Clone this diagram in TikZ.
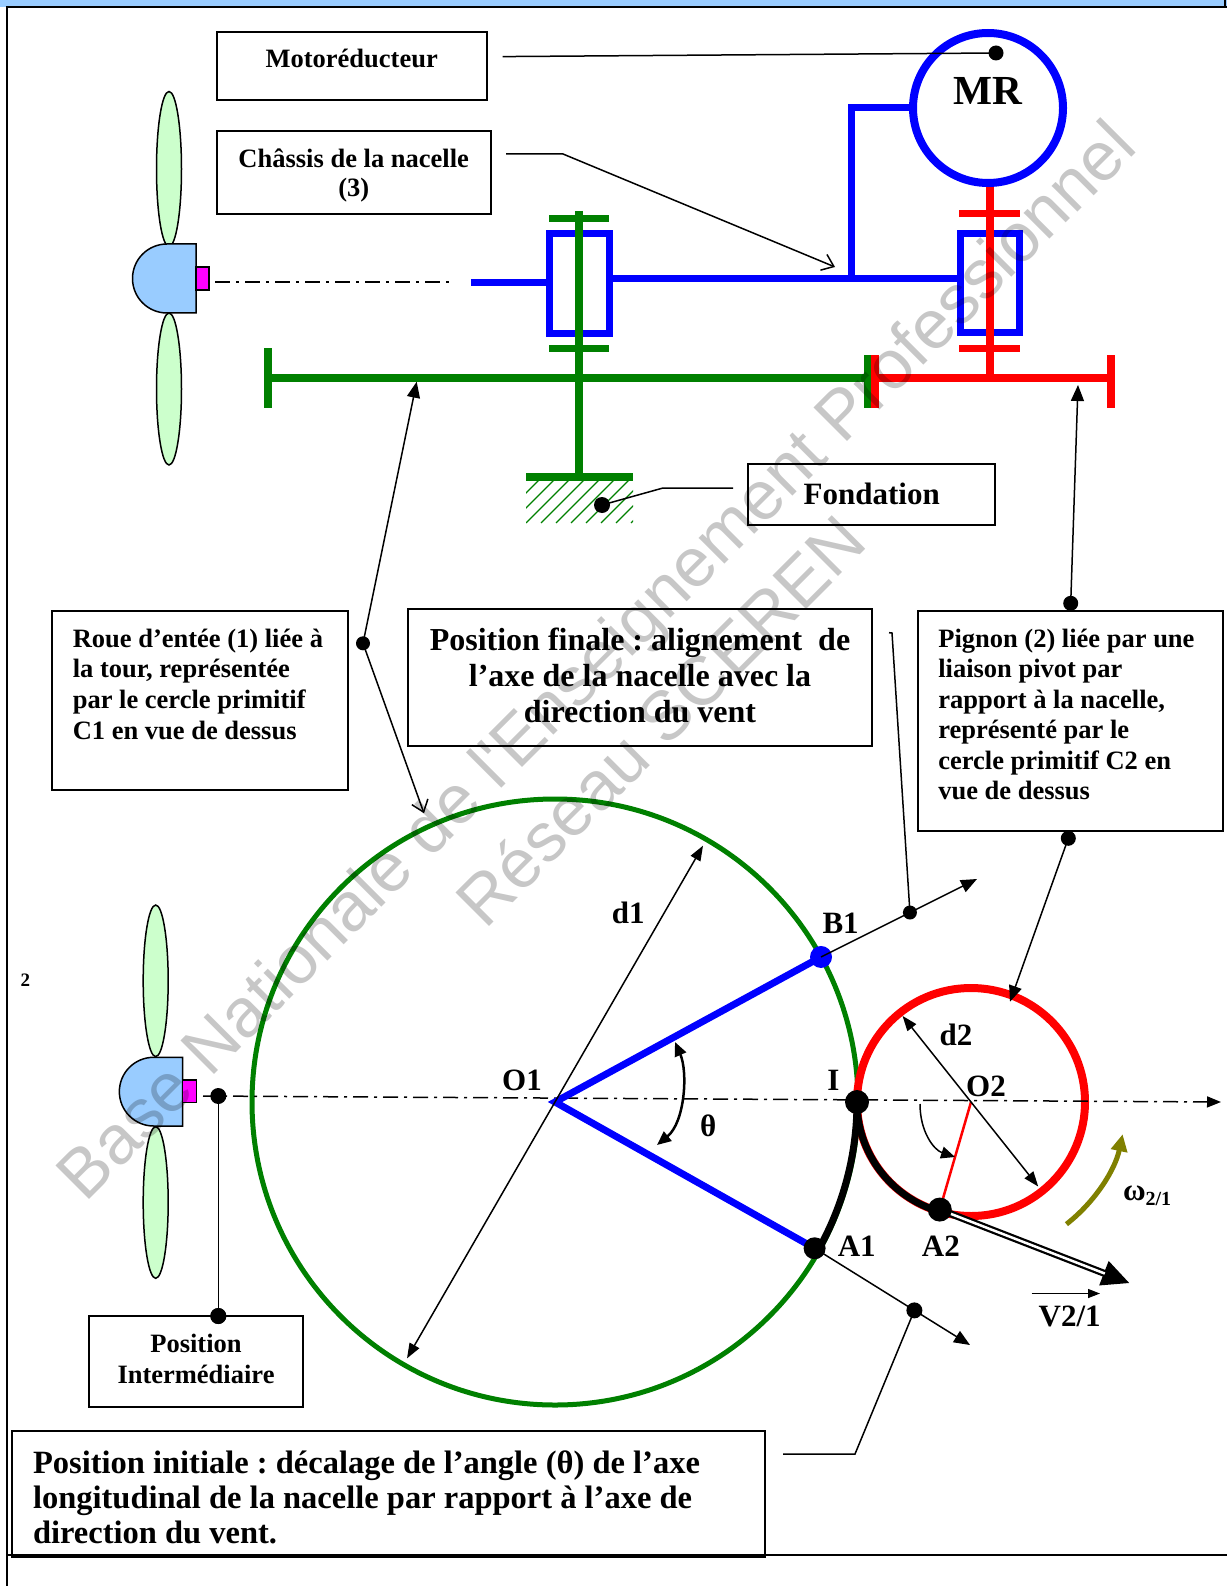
\documentclass[tikz,border=0pt]{standalone}
\usepackage{fontspec}
\setmainfont{Liberation Serif}
\newfontfamily\wmfont{Liberation Sans}
\usetikzlibrary{arrows.meta,calc}
\definecolor{hubblue}{RGB}{153,204,255}
\definecolor{bladegreen}{RGB}{204,255,204}
\definecolor{gblue}{RGB}{0,0,255}
\definecolor{ggreen}{RGB}{0,128,0}
\definecolor{gred}{RGB}{255,0,0}
\definecolor{gmag}{RGB}{255,0,255}
\definecolor{golive}{RGB}{128,128,0}
\frenchspacing
\begin{document}
\frenchspacing
\begin{tikzpicture}[x=1pt,y=1pt,
  every node/.style={inner sep=0pt, outer sep=0pt},
  txt/.style={font=\bfseries\fontsize{26.5pt}{30.7pt}\selectfont},
  txtb/.style={font=\bfseries\fontsize{31pt}{36pt}\selectfont},
  boxf/.style={draw, line width=2pt, anchor=north west},
  dotn/.style={circle, fill=black, minimum size=#1},
  dotn/.default=15pt,
  lead/.style={line width=1.5pt},
  fa/.style={-{Triangle[length=16pt,width=13pt]}},
  oa/.style={-{Straight Barb[length=11pt,width=17pt]}},
  dd/.style={{Triangle[length=15pt,width=11pt]}-{Triangle[length=15pt,width=11pt]}},
  axisl/.style={line width=1.5pt, dash pattern=on 15pt off 6pt on 3pt off 6pt},
  gear/.style={line width=8pt},
  wm/.style={font=\wmfont\fontsize{69pt}{78pt}\selectfont, text=black, text opacity=0.22},
]
\useasboundingbox (0,0) rectangle (1227,-1586);
\fill[white] (0,0) rectangle (1227,-1586);

% page frame and header band
\fill[hubblue] (0,0) rectangle (1227,-7);
\draw[line width=2.5pt] (7,-1586) -- (7,-7) -- (1227,-7);
\draw[line width=2pt] (1225,0) -- (1225,-7);
\draw[line width=2.5pt] (8,-1555) -- (1227,-1555);
\node[font=\bfseries\fontsize{19pt}{19pt}\selectfont] (pg) at (25.3,-980) {2};

% ---------- top view: kinematic sketch ----------
% rotor
\draw[line width=1.5pt, fill=bladegreen] (169,-169) ellipse [x radius=12.5, y radius=77.5];
\draw[line width=1.5pt, fill=bladegreen] (169,-389) ellipse [x radius=12.5, y radius=76];
\draw[line width=1.5pt, fill=hubblue] (196,-244) -- (167,-244) arc[start angle=90, end angle=270, radius=34.5] -- (196,-313) -- cycle;
\draw[line width=1.5pt, fill=gmag] (196,-267) rectangle (209,-290);
\draw[axisl] (215,-282) -- (450,-282);

% nacelle frame (blue)
\node[circle, draw=gblue, line width=8pt, minimum size=150pt] (mr) at (988,-108) {};
\node[font=\bfseries\fontsize{41.3pt}{41.3pt}\selectfont, anchor=base] (mrl) at (988,-105) {MR};
\draw[gblue, line width=7pt] (471,-282.5) -- (549,-282.5);
\draw[gblue, line width=7pt] (549,-234) rectangle (609,-333);
\draw[gblue, line width=7pt] (609,-279) -- (960,-279);
\draw[gblue, line width=7pt] (960,-234) rectangle (1019,-332);
\draw[gblue, line width=7pt, line join=miter] (851,-279) -- (851,-108) -- (mr.west);

% tower wheel (green)
\draw[ggreen, gear] (579,-211) -- (579,-477);
\draw[ggreen, line width=7pt] (549,-219) -- (609,-219);
\draw[ggreen, line width=7pt] (549,-348) -- (609,-348);
\draw[ggreen, gear] (268,-378) -- (868,-378);
\draw[ggreen, gear] (268,-348) -- (268,-408);
\draw[ggreen, gear] (868,-355) -- (868,-408);
\draw[ggreen, gear] (526,-477) -- (633,-477);
\begin{scope}
  \clip (526,-481) rectangle (633,-523);
  \foreach \k in {-3,...,7} \draw[ggreen, line width=1.3pt] (526+15*\k,-523) -- ++(45:62);
\end{scope}

% pinion (red)
\draw[gred, gear] (990,-187) -- (990,-378);
\draw[gred, line width=7pt] (959,-214) -- (1020,-214);
\draw[gred, line width=7pt] (959,-348) -- (1020,-348);
\draw[gred, gear] (872,-378) -- (1111,-378);
\draw[gred, gear] (875,-355) -- (875,-408);
\draw[gred, gear] (1111,-355) -- (1111,-408);

% labels of the top view
\node[boxf, minimum width=270pt, minimum height=68pt] (bMot) at (216.7,-32) {};
\node[txt, anchor=base] (tMot) at (351.7,-68) {Motoréducteur};
\coordinate (motS) at (502.7,-56.6);
\node[dotn] (motD) at (996,-53) {};
\draw[lead] (motS) -- (motD.center);

\node[boxf, minimum width=274pt, minimum height=83.6pt] (bChas) at (216.7,-130.7) {};
\node[font=\bfseries\fontsize{26.5pt}{29.5pt}\selectfont, anchor=north, align=center] (tChas) at (353.7,-148.4) {Châssis de la nacelle\\(3)};
\coordinate (chasS) at (506,-154);
\coordinate (chasK) at (563,-154);
\coordinate (chasT) at (835,-267);
\draw[lead, oa] (chasS) -- (chasK) -- (chasT);

\node[boxf, minimum width=246.7pt, minimum height=61pt] (bFond) at (748.3,-464) {};
\node[font=\bfseries\fontsize{31pt}{31pt}\selectfont, anchor=base] (tFond) at (871.7,-504) {Fondation};
\node[dotn=16pt] (fondD) at (602,-505) {};
\coordinate (fondK) at (663,-488);
\coordinate (fondS) at (733,-488);
\draw[lead] (fondD.center) -- (fondK) -- (fondS);

% ---------- middle labels ----------
\node[boxf, minimum width=296.4pt, minimum height=179pt] (bRoue) at (51.6,-611) {};
\node[txt, anchor=north west, align=left] (tRoue) at (72.8,-628.7) {Roue d’entée (1) liée à\\la tour, représentée\\par le cercle primitif\\C1 en vue de dessus};

\node[boxf, minimum width=464.1pt, minimum height=136.7pt] (bFin) at (407.9,-609.3) {};
\node[font=\bfseries\fontsize{32pt}{35.8pt}\selectfont, anchor=north, align=center] (tFin) at (640,-628) {Position finale : alignement\ \ de\\l’axe de la nacelle avec la\\direction du vent};

\node[boxf, minimum width=304.4pt, minimum height=220pt] (bPig) at (918.3,-610.7) {};
\node[font=\bfseries\fontsize{26.5pt}{30.5pt}\selectfont, anchor=north west, align=left] (tPig) at (938.3,-628.7) {Pignon (2) liée par une\\liaison pivot par\\rapport à la nacelle,\\représenté par le\\cercle primitif C2 en\\vue de dessus};

\node[dotn=14pt] (roueD) at (363,-643.3) {};
\coordinate (roueUp) at (416.7,-381.7);
\coordinate (roueDn) at (424,-813.3);
\draw[lead, fa] (roueD.center) -- (roueUp);
\draw[lead, oa] (roueD.center) -- (roueDn);

\node[dotn] (pigUpD) at (1070.7,-603.3) {};
\coordinate (pigUpT) at (1078,-385);
\draw[lead, fa] (pigUpD.center) -- (pigUpT);

% ---------- bottom view: geometry ----------
\coordinate (O1) at (555,-1102);
\coordinate (O2) at (971,-1102);
\coordinate (I) at (857,-1102);
\coordinate (B1) at ($(O1)+(28.6:303)$);
\coordinate (A1) at ($(O1)+(-29.4:298)$);
\coordinate (A2) at ($(O2)+(253.8:112)$);

% rotor in intermediate position
\draw[line width=1.5pt, fill=bladegreen] (155.7,-980.8) ellipse [x radius=12.5, y radius=75.8];
\draw[line width=1.5pt, fill=bladegreen] (155.7,-1202.5) ellipse [x radius=12.5, y radius=75.8];
\draw[line width=1.5pt, fill=hubblue] (182.7,-1057.3) -- (153.7,-1057.3) arc[start angle=90, end angle=270, radius=34.35] -- (182.7,-1126) -- cycle;
\draw[line width=1.5pt, fill=gmag] (182.7,-1080) rectangle (196.7,-1102.7);

% pitch circles
\draw[ggreen, line width=5pt] (O1) circle[radius=303];
\draw[gred, line width=8pt] (O2) circle[radius=114];

% wind direction axis
\coordinate (axS) at (203,-1096);
\coordinate (axE) at (1221,-1102);
\draw[axisl, -{Triangle[length=14pt,width=11pt]}] (axS) -- (axE);

% nacelle axis, initial and intermediate
\draw[gblue, line width=7pt, line join=miter] (B1) -- (O1) -- (A1);

% rolling contact arcs
\draw[line width=7pt] (I) arc[start angle=0, end angle=-29.4, radius=302];
\draw[line width=7pt] (I) arc[start angle=180, end angle=253.8, radius=114];
\draw[gred, line width=2.5pt] (O2) -- (A2);

% diameters
\draw[lead, dd] ($(O1)+(240:296)$) -- ($(O1)+(60:296)$);
\draw[lead, dd] ($(O2)+(128.5:110)$) -- ($(O2)+(-51.5:108)$);

% angle theta
\coordinate (thA) at (657,-1145);
\coordinate (thB) at (675,-1042);
\draw[line width=2.5pt, {Triangle[length=14pt,width=12pt]}-{Triangle[length=14pt,width=12pt]}] (thA) .. controls (685,-1122) and (688,-1072) .. (thB);

% rotation of the pinion around O2
\coordinate (rA) at (920,-1104);
\coordinate (rB) at (955,-1157);
\draw[lead, -{Triangle[length=14pt,width=12pt]}] (rA) .. controls (920,-1132) and (934,-1150) .. (rB);

% angular velocity
\draw[golive, line width=5pt, -{Triangle[length=17pt,width=16pt]}] ($(O2)+(-52:155)$) arc[start angle=-52, end angle=-12, radius=155];

% velocity vector at A2
\coordinate (vT) at (1130,-1283.3);
\draw[line width=7pt, -{Triangle[length=28pt,width=24pt]}] (A2) -- (vT);
\draw[white, line width=2.5pt, shorten >=27pt] (A2) -- (vT);

% points
\node[dotn=24pt] (Id) at (I) {};
\node[dotn=22pt] (A1d) at (A1) {};
\node[dotn=24pt] (A2d) at (A2) {};
\node[circle, fill=gblue, minimum size=22pt] (B1d) at (B1) {};

% leaders
\coordinate (bT) at (977,-879);
\node[dotn=14pt] (bD) at ($(B1)!0.57!(bT)$) {};
\draw[lead, fa] (B1) -- (bT);
\coordinate (finS) at (889,-632.7);
\coordinate (finK) at (892,-633);
\draw[lead] (finS) -- (finK) -- (bD.center);

\coordinate (aT) at (970,-1345);
\node[dotn=16pt] (aD) at ($(A1)!0.642!(aT)$) {};
\draw[lead, fa] (A1) -- (aT);
\coordinate (iniK) at (855,-1454);
\coordinate (iniS) at (783,-1454);
\draw[lead] (aD.center) -- (iniK) -- (iniS);

\node[dotn=15pt] (pigDnD) at (1068.3,-838.3) {};
\coordinate (pigDnT) at (1010,-1001.7);
\draw[lead, fa] (pigDnD.center) -- (pigDnT);

\node[dotn=16pt] (axD) at (218.3,-1096) {};
\node[dotn=16pt] (intD) at (218.3,-1316) {};
\draw[lead] (axD.center) -- (intD.center);

% point and dimension labels
\node[txtb, anchor=base] (ld1) at (628.3,-923.3) {d1};
\node[txtb, anchor=base] (lB1) at (840.6,-933) {B1};
\node[txtb, anchor=base] (lO1) at (522,-1090) {O1};
\node[txtb, anchor=base] (lth) at (708.3,-1136.7) {θ};
\node[txtb, anchor=base] (lI) at (833.3,-1090) {I};
\node[txtb, anchor=base] (lO2) at (986,-1096.7) {O2};
\node[txtb, anchor=base] (ld2) at (956,-1045) {d2};
\node[txtb, anchor=base] (lA1) at (856.7,-1256.7) {A1};
\node[txtb, anchor=base] (lA2) at (940.8,-1256.7) {A2};
\node[txtb, anchor=base west] (lw) at (1123,-1200) {ω\raisebox{-5pt}{\fontsize{20pt}{20pt}\selectfont 2/1}};
\node[txtb, anchor=base] (lV) at (1069.7,-1326) {V2/1};
\coordinate (vaS) at (1031.7,-1293.5);
\coordinate (vaE) at (1100,-1293.5);
\draw[line width=1.3pt, -{Triangle[length=12pt,width=9pt]}] (vaS) -- (vaE);

% bottom boxes
\node[boxf, minimum width=213.4pt, minimum height=91pt] (bInt) at (89.3,-1316) {};
\node[txt, anchor=north, align=center] (tInt) at (196,-1334.4) {Position\\Intermédiaire};
\node[dotn=16pt] (intD2) at (218.3,-1316) {};

\node[boxf, minimum width=753.6pt, minimum height=126pt] (bIni) at (11.7,-1430.7) {};
\node[font=\bfseries\fontsize{32.5pt}{35.3pt}\selectfont, anchor=north west, align=left] (tIni) at (33,-1450.5) {Position initiale : décalage de l’angle (θ) de l’axe\\longitudinal de la nacelle par rapport à l’axe de\\direction du vent.};

% watermark
\node[wm, rotate=45] (wm1) at (600,-664) {Base Nationale de l'Enseignement Professionnel};
\node[wm, rotate=45] (wm2) at (660,-720) {Réseau SCEREN};
\end{tikzpicture}
\end{document}
